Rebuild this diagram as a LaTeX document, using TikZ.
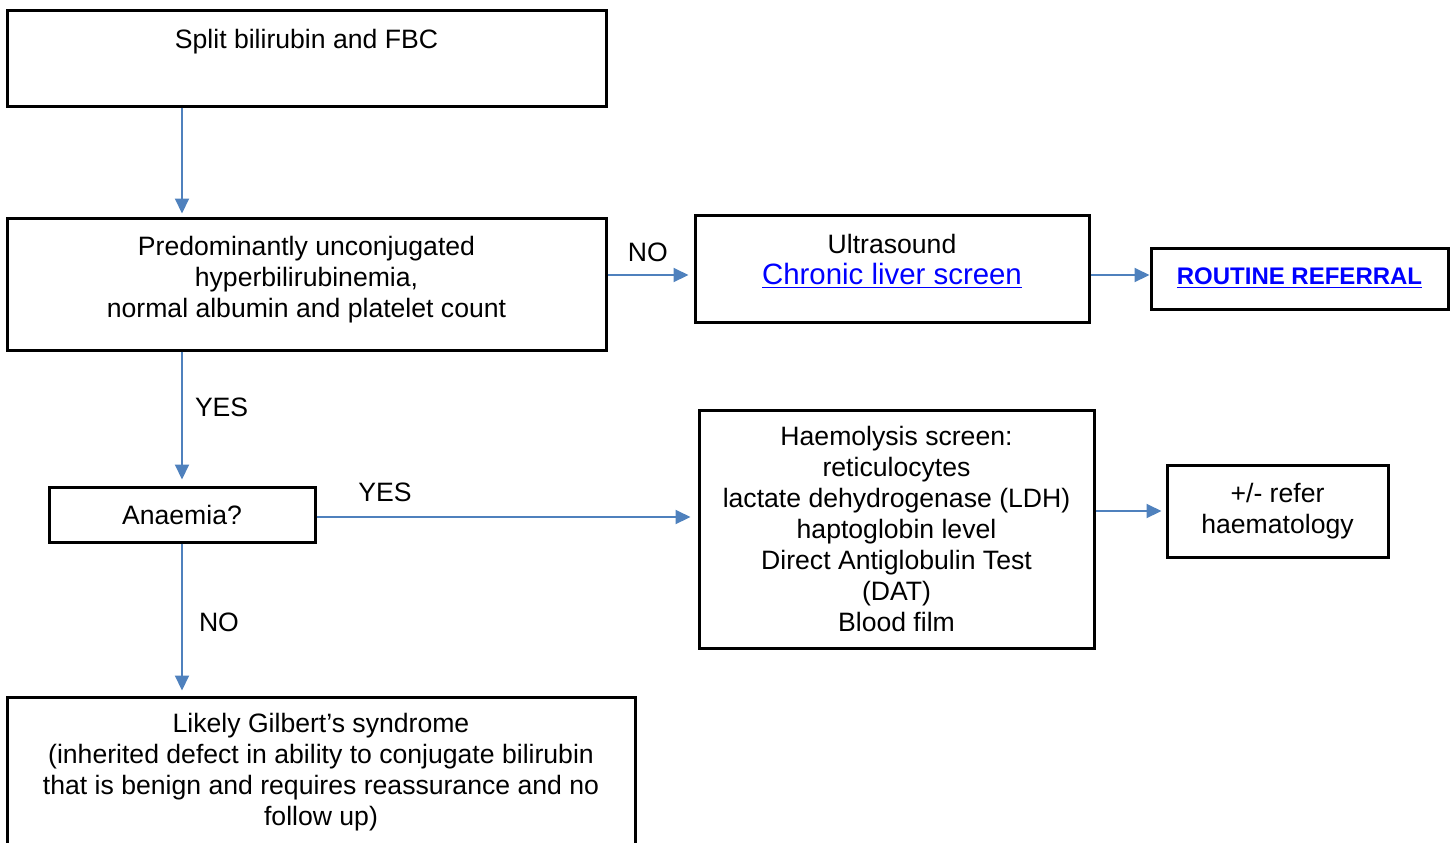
\documentclass[tikz,border=0pt]{standalone}
\usepackage{fontspec}
\setmainfont{Liberation Sans}
\usetikzlibrary{arrows.meta}

\definecolor{flowblue}{HTML}{4F81BD}
\definecolor{linkblue}{HTML}{0000FF}

\tikzset{
  box/.style={draw, line width=1.5pt, align=center, inner sep=0pt,
              font=\fontsize{13.3}{15.5}\selectfont},
  flow/.style={draw=flowblue, line width=1pt,
               -{Triangle[length=7.5pt, width=7pt]}},
  lbl/.style={font=\fontsize{13.3}{15.5}\selectfont, inner sep=0pt}
}

\begin{document}
\begin{tikzpicture}[x=0.5pt, y=-0.5pt]

  \useasboundingbox (0,0) rectangle (1456,842);

  % boxes
  \node[box, minimum width=299.5pt, minimum height=48pt] (start) at (306.5,58)
    {Split bilirubin and FBC\\[4pt] \mbox{}};
  \node[box, minimum width=299.5pt, minimum height=66pt] (unconj) at (306.5,284)
    {Predominantly unconjugated\\ hyperbilirubinemia,\\ normal albumin and platelet count\\[-8.8pt] \mbox{}};
  \node[box, minimum width=197pt, minimum height=53.5pt] (ultra) at (892,268.5)
    {Ultrasound\\ \textcolor{linkblue}{\fontsize{14.7}{15.5}\selectfont\underline{Chronic liver screen}}\\[-6.5pt] \mbox{}};
  \node[box, minimum width=148.5pt, minimum height=30.5pt] (routine) at (1299.5,278.5)
    {\textcolor{linkblue}{\fontsize{12}{15.5}\selectfont\underline{\textbf{ROUTINE REFERRAL}}}};
  \node[box, minimum width=133pt, minimum height=27.5pt] (anaemia) at (182,514.5)
    {Anaemia?};
  \node[box, minimum width=197.5pt, minimum height=119pt] (haem) at (896.5,529)
    {Haemolysis screen:\\ reticulocytes\\ lactate dehydrogenase (LDH)\\ haptoglobin level\\
     Direct Antiglobulin Test\\ (DAT)\\ Blood film};
  \node[box, minimum width=110.5pt, minimum height=46pt] (refer) at (1277.5,511)
    {+/- refer\\ haematology};
  \node[box, minimum width=314pt, minimum height=75.5pt] (gilbert) at (321,772.5)
    {Likely Gilbert’s syndrome\\ (inherited defect in ability to conjugate bilirubin\\
     that is benign and requires reassurance and no\\ follow up)};

  \coordinate (lvl) at (0,275);
  \coordinate (lvlb) at (0,517);

  % connectors
  \draw[flow, shorten >=1.5pt] (anaemia |- start.south) -- (anaemia |- unconj.north);
  \draw[flow, shorten >=2.5pt] (unconj.east |- lvl) -- (ultra.west |- lvl)
    node[lbl, pos=0.47, above=6pt] (no1) {NO};
  \draw[flow] (ultra.east |- lvl) -- (routine.west |- lvl);
  \draw[flow, shorten >=3pt] (unconj.south -| anaemia) -- (anaemia.north)
    node[lbl, pos=0.42, right=6pt] (yes1) {YES};
  \draw[flow, shorten >=3.5pt] (anaemia.east |- lvlb) -- (haem.west |- lvlb)
    node[lbl, pos=0.18, above=7pt] (yes2) {YES};
  \draw[flow, shorten >=2pt] (haem.east |- refer.center) -- (refer.west);
  \draw[flow, shorten >=2.5pt] (anaemia.south) -- (gilbert.north -| anaemia)
    node[lbl, pos=0.52, right=8pt] (no2) {NO};

\end{tikzpicture}
\end{document}
